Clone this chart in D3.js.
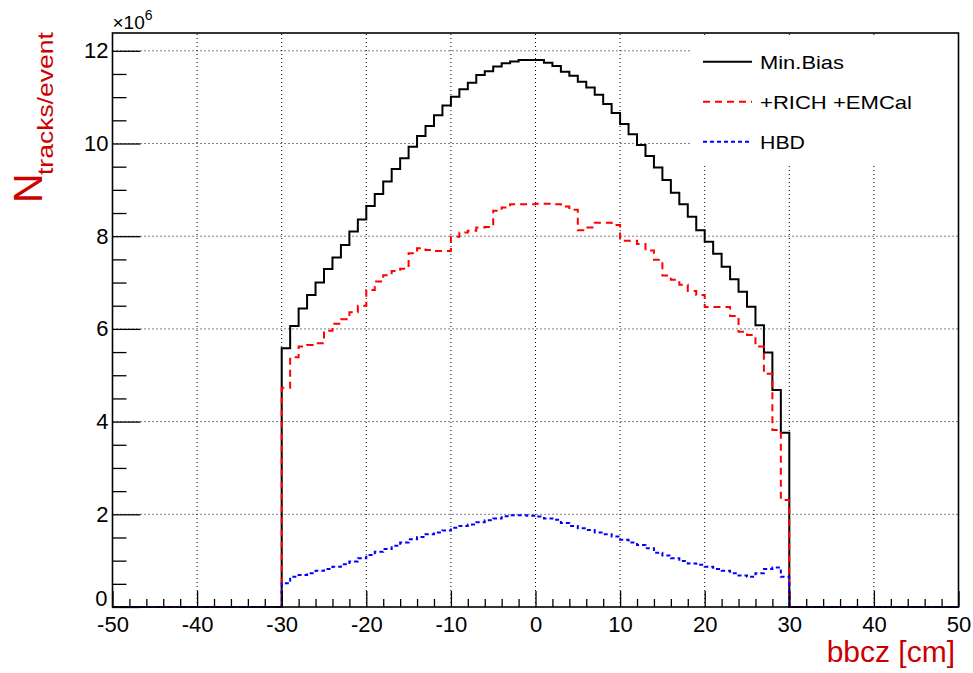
<!DOCTYPE html>
<html>
<head>
<meta charset="utf-8">
<script src="https://cdn.jsdelivr.net/npm/d3@7"></script>
<style>
  html, body { margin: 0; padding: 0; background: #fff; }
  svg { display: block; font-family: "Liberation Sans", Arial, Helvetica, sans-serif; }
</style>
</head>
<body>
<svg id="chart" width="973" height="673"></svg>
<script>
// ---- data (values in units of 10^6) ----
const binLowEdges = [
  -30,-29,-28,-27,-26,-25,-24,-23,-22,-21,
  -20,-19,-18,-17,-16,-15,-14,-13,-12,-11,
  -10,-9,-8,-7,-6,-5,-4,-3,-2,-1,
  0,1,2,3,4,5,6,7,8,9,
  10,11,12,13,14,15,16,17,18,19,
  20,21,22,23,24,25,26,27,28,29
];
const binWidth = 1;
const minBias = [
  5.58, 6.06, 6.44, 6.73, 7.00, 7.29, 7.54, 7.81, 8.10, 8.36,
  8.65, 8.91, 9.18, 9.45, 9.68, 9.93, 10.16, 10.38, 10.61, 10.82,
  11.01, 11.17, 11.31, 11.48, 11.56, 11.66, 11.73, 11.77, 11.80, 11.80,
  11.80, 11.74, 11.67, 11.55, 11.46, 11.33, 11.21, 11.05, 10.85, 10.66,
  10.42, 10.20, 9.97, 9.73, 9.48, 9.21, 8.94, 8.69, 8.42, 8.13,
  7.88, 7.62, 7.34, 7.07, 6.80, 6.48, 6.08, 5.49, 4.68, 3.76
];
const richEmcal = [
  4.73, 5.39, 5.62, 5.65, 5.69, 5.96, 6.11, 6.21, 6.36, 6.50,
  6.84, 7.02, 7.16, 7.25, 7.30, 7.63, 7.74, 7.70, 7.68, 7.68,
  7.99, 8.08, 8.12, 8.19, 8.20, 8.55, 8.62, 8.69, 8.69, 8.69,
  8.70, 8.70, 8.69, 8.64, 8.57, 8.13, 8.19, 8.29, 8.29, 8.24,
  7.90, 7.90, 7.83, 7.69, 7.49, 7.15, 7.06, 6.95, 6.82, 6.73,
  6.47, 6.47, 6.47, 6.28, 5.94, 5.87, 5.62, 5.03, 3.82, 2.31
];
const hbd = [
  0.51, 0.65, 0.69, 0.73, 0.78, 0.82, 0.87, 0.92, 0.98, 1.05,
  1.12, 1.19, 1.25, 1.32, 1.39, 1.46, 1.51, 1.57, 1.61, 1.65,
  1.71, 1.75, 1.78, 1.83, 1.87, 1.91, 1.96, 1.98, 1.98, 1.97,
  1.95, 1.91, 1.88, 1.81, 1.75, 1.70, 1.66, 1.61, 1.57, 1.52,
  1.45, 1.39, 1.34, 1.27, 1.17, 1.11, 1.05, 0.99, 0.94, 0.91,
  0.87, 0.82, 0.78, 0.73, 0.68, 0.65, 0.73, 0.82, 0.85, 0.65
];
const seriesNames = ["Min.Bias", "+RICH +EMCal", "HBD"];
const xDomain = [-50, 50];
const yDomain = [0, 12.384];
const xMajorTicks = [-50, -40, -30, -20, -10, 0, 10, 20, 30, 40, 50];
const yMajorTicks = [0, 2, 4, 6, 8, 10, 12];

// ---- layout ----
const svg = d3.select("#chart");
const L = 112.5, R = 958.5, T = 33, B = 607;
const x = d3.scaleLinear().domain(xDomain).range([L, R]);
const y = d3.scaleLinear().domain(yDomain).range([B, T]);
const titleColor = "#cc0000";

// grid
const gridG = svg.append("g").attr("stroke", "#000").attr("stroke-width", 1)
  .attr("stroke-dasharray", "1,3").attr("fill", "none");
xMajorTicks.filter(v => v > xDomain[0] && v < xDomain[1]).forEach(v => {
  gridG.append("line").attr("x1", x(v)).attr("x2", x(v)).attr("y1", B).attr("y2", T);
});
yMajorTicks.filter(v => v > 0).forEach(v => {
  gridG.append("line").attr("x1", L).attr("x2", R).attr("y1", y(v)).attr("y2", y(v));
});

// histograms
function histPoints(vals) {
  const pts = [[xDomain[0], 0], [binLowEdges[0], 0]];
  vals.forEach((v, i) => {
    pts.push([binLowEdges[i], v]);
    pts.push([binLowEdges[i] + binWidth, v]);
  });
  pts.push([binLowEdges[binLowEdges.length - 1] + binWidth, 0]);
  pts.push([xDomain[1], 0]);
  return pts;
}
const line = d3.line().x(d => x(d[0])).y(d => y(d[1]));
const styles = [
  { data: minBias, color: "#000000", dash: null },
  { data: richEmcal, color: "#ff0000", dash: "7,5" },
  { data: hbd, color: "#0000ff", dash: "4,3" }
];
styles.forEach(s => {
  svg.append("path").datum(histPoints(s.data)).attr("d", line)
    .attr("fill", "none").attr("stroke", s.color).attr("stroke-width", 2)
    .attr("stroke-dasharray", s.dash);
});

// legend
svg.append("rect").attr("x", 692).attr("y", 38).attr("width", R - 692).attr("height", 125).attr("fill", "#fff");
const legRows = [61.7, 101.7, 141.7];
const legTextLen = [84, 152, 45];
styles.forEach((s, i) => {
  svg.append("line").attr("x1", 703).attr("x2", 752).attr("y1", legRows[i]).attr("y2", legRows[i])
    .attr("stroke", s.color).attr("stroke-width", 2).attr("stroke-dasharray", s.dash);
  svg.append("text").attr("x", 760).attr("y", legRows[i] + 7).attr("font-size", 19)
    .attr("textLength", legTextLen[i]).attr("lengthAdjust", "spacingAndGlyphs")
    .text(seriesNames[i]);
});

// axes
const fmt = d => String(d);
const xAxis = svg.append("g").attr("transform", `translate(0,${B})`)
  .call(d3.axisBottom(x).tickValues(xMajorTicks).tickSizeInner(-16).tickSizeOuter(0).tickPadding(9)
    .tickFormat(fmt));
xAxis.select(".domain").remove();
xAxis.selectAll("text").attr("font-size", 22).attr("fill", "#000").attr("font-family", "Liberation Sans, Arial, sans-serif");
xAxis.selectAll("line").attr("stroke", "#000").attr("stroke-width", 1.3);

const xMinor = d3.range(xDomain[0], xDomain[1] + 0.001, 2).filter(v => v % 10 !== 0);
const xMinAxis = svg.append("g").attr("transform", `translate(0,${B})`)
  .call(d3.axisBottom(x).tickValues(xMinor).tickSizeInner(-8).tickSizeOuter(0).tickFormat(""));
xMinAxis.select(".domain").remove();
xMinAxis.selectAll("line").attr("stroke", "#000").attr("stroke-width", 1.3);

const yAxis = svg.append("g").attr("transform", `translate(${L},0)`)
  .call(d3.axisLeft(y).tickValues(yMajorTicks).tickSizeInner(-28).tickSizeOuter(0).tickPadding(4)
    .tickFormat(fmt));
yAxis.select(".domain").remove();
yAxis.selectAll("text").attr("font-size", 22).attr("fill", "#000").attr("font-family", "Liberation Sans, Arial, sans-serif");
yAxis.selectAll("line").attr("stroke", "#000").attr("stroke-width", 1.3);
// nudge the "0" label so it does not collide with "-50"
yAxis.selectAll(".tick").filter(d => d === 0).select("text").attr("dy", "-0.06em").attr("x", -5);

const yMinor = d3.range(0.5, 12.3, 0.5).filter(v => v % 2 !== 0);
const yMinAxis = svg.append("g").attr("transform", `translate(${L},0)`)
  .call(d3.axisLeft(y).tickValues(yMinor).tickSizeInner(-14).tickSizeOuter(0).tickFormat(""));
yMinAxis.select(".domain").remove();
yMinAxis.selectAll("line").attr("stroke", "#000").attr("stroke-width", 1.3);

// frame
svg.append("rect").attr("x", L).attr("y", T).attr("width", R - L).attr("height", B - T)
  .attr("fill", "none").attr("stroke", "#000").attr("stroke-width", 1.6);

// exponent label
const expT = svg.append("text").attr("x", L).attr("y", 29).attr("font-size", 19).attr("fill", "#000");
expT.append("tspan").text("×10");
expT.append("tspan").attr("dy", -9).attr("font-size", 14).text("6");

// axis titles
const yt = svg.append("text").attr("transform", "translate(42,203) rotate(-90)").attr("fill", titleColor);
yt.append("tspan").attr("font-size", 41).text("N");
yt.append("tspan").attr("x", 28).attr("dy", 11).attr("font-size", 22)
  .attr("textLength", 143).attr("lengthAdjust", "spacingAndGlyphs").text("tracks/event");

svg.append("text").attr("x", 955).attr("y", 662).attr("text-anchor", "end")
  .attr("font-size", 30).attr("fill", titleColor).text("bbcz [cm]");
</script>
</body>
</html>
